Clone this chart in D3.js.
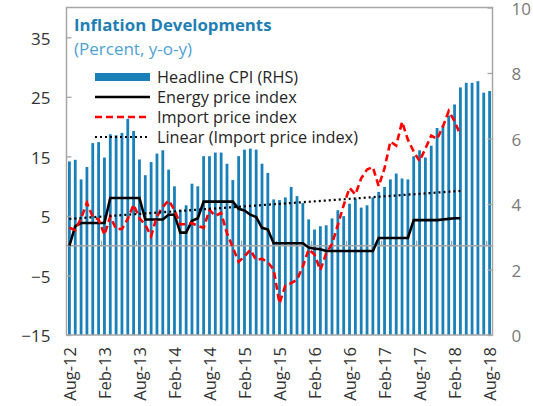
<!DOCTYPE html>
<html lang="en">
<head>
<meta charset="utf-8">
<title>Inflation Developments</title>
<script src="https://cdn.jsdelivr.net/npm/d3@7"></script>
<style>
	body { margin: 0; background: #fff; }
	text { font-family: "Open Sans", sans-serif; }
</style>
</head>
<body>
<script>
// categories: monthly, Aug-12 to Aug-18
var months = [
	"Aug-12","Sep-12","Oct-12","Nov-12","Dec-12",
	"Jan-13","Feb-13","Mar-13","Apr-13","May-13","Jun-13","Jul-13","Aug-13","Sep-13","Oct-13","Nov-13","Dec-13",
	"Jan-14","Feb-14","Mar-14","Apr-14","May-14","Jun-14","Jul-14","Aug-14","Sep-14","Oct-14","Nov-14","Dec-14",
	"Jan-15","Feb-15","Mar-15","Apr-15","May-15","Jun-15","Jul-15","Aug-15","Sep-15","Oct-15","Nov-15","Dec-15",
	"Jan-16","Feb-16","Mar-16","Apr-16","May-16","Jun-16","Jul-16","Aug-16","Sep-16","Oct-16","Nov-16","Dec-16",
	"Jan-17","Feb-17","Mar-17","Apr-17","May-17","Jun-17","Jul-17","Aug-17","Sep-17","Oct-17","Nov-17","Dec-17",
	"Jan-18","Feb-18","Mar-18","Apr-18","May-18","Jun-18","Jul-18","Aug-18"
];

// headline CPI, right axis
var cpi = [
	5.3, 5.35, 4.75, 5.13, 5.86, 5.89, 5.42, 6.13, 6.1, 6.17,
	6.6, 6.23, 5.36, 4.88, 5.28, 5.54, 5.64, 5.05, 4.54, 3.83,
	3.96, 4.62, 4.54, 5.46, 5.46, 5.57, 5.57, 5.23, 4.73, 5.46,
	5.66, 5.69, 5.66, 5.23, 4.95, 4.14, 4.12, 4.2, 4.52, 4.24,
	4.03, 3.53, 3.22, 3.32, 3.35, 3.56, 3.81, 3.63, 4.01, 4.17,
	3.89, 3.96, 4.2, 4.37, 4.52, 4.75, 4.93, 4.78, 4.75, 5.46,
	5.64, 5.42, 5.78, 6.32, 6.4, 6.7, 7.04, 7.56, 7.7, 7.7,
	7.75, 7.4, 7.45
];

// energy price index, left axis (Aug-12 to Mar-18)
var energy = [
	0.0, 3.3, 3.8, 3.8, 3.8, 3.8, 3.8, 8.0, 8.0, 8.0,
	8.0, 8.0, 8.0, 4.4, 4.4, 4.4, 4.4, 5.2, 5.2, 2.2,
	2.2, 4.2, 4.6, 7.4, 7.4, 7.4, 7.4, 7.4, 7.4, 6.2,
	5.9, 5.2, 4.8, 3.0, 2.7, 0.4, 0.4, 0.4, 0.4, 0.4,
	0.4, -0.3, -0.5, -0.6, -0.9, -0.9, -0.9, -0.9, -0.9, -0.9,
	-0.9, -0.9, -0.9, 1.3, 1.3, 1.3, 1.3, 1.3, 1.3, 4.3,
	4.3, 4.3, 4.3, 4.3, 4.4, 4.5, 4.6, 4.6
];

// import price index, left axis (Aug-12 to Mar-18)
var importIdx = [
	3.0, 2.6, 4.6, 7.2, 4.8, 4.4, 1.8, 4.9, 2.8, 2.8,
	4.5, 6.9, 4.6, 3.5, 1.6, 4.9, 6.5, 7.6, 6.0, 3.6,
	3.6, 3.8, 3.3, 3.0, 6.0, 5.0, 5.5, 2.1, -0.3, -2.7,
	-1.8, -0.7, -2.4, -2.2, -2.8, -4.0, -9.7, -6.7, -6.3, -5.7,
	-3.5, -0.6, -1.5, -4.1, -1.3, 0.3, 3.5, 6.8, 9.7, 8.6,
	11.3, 12.8, 13.2, 10.0, 13.0, 17.5, 16.8, 20.8, 17.8, 15.8,
	14.2, 16.3, 18.5, 17.9, 20.0, 22.6, 20.9, 18.6
];

// linear trend of import prices: first and last month
var trendMonths = ["Aug-12", "Mar-18"];
var trendValues = [4.5, 9.2];

var leftTicks = [-15, -5, 5, 15, 25, 35];
var rightTicks = [0, 2, 4, 6, 8, 10];
var xTickLabels = months.filter(function(d, i) { return i % 6 == 0; });

var legendLabels = ["Headline CPI (RHS)", "Energy price index", "Import price index", "Linear (Import price index)"];

//setup
var width = 533, height = 406;
var plotL = 66.5, plotR = 492.5, plotT = 7.5, plotB = 335;
var blue = "#1a80b9", grey = "#a6a6a6";

var svg = d3.select("body")
	.append("svg")
	.attr("width", width)
	.attr("height", height);

var x = d3.scaleBand()
	.domain(months)
	.range([plotL, plotR])
	.paddingInner(0.52)
	.paddingOuter(0.26);
var yL = d3.scaleLinear().domain([-15, 40]).range([plotB, plotT]);
var yR = d3.scaleLinear().domain([0, 10]).range([plotB, plotT]);

function cx(m) { return x(m) + x.bandwidth() / 2; }

//bars
svg.append("g").selectAll("rect")
	.data(cpi)
	.enter().append("rect")
	.attr("x", function(d, i) { return x(months[i]); })
	.attr("width", x.bandwidth())
	.attr("y", function(d) { return yR(d); })
	.attr("height", function(d) { return yR(0) - yR(d); })
	.attr("fill", blue);

//zero line and its ticks
svg.append("line")
	.attr("x1", plotL).attr("x2", plotR)
	.attr("y1", yL(0)).attr("y2", yL(0))
	.attr("stroke", grey).attr("stroke-width", 1.5);

var tickIdx = months.map(function(d, i) { return i; }).filter(function(i) { return i % 6 == 0 && i > 0; });
svg.append("g").selectAll("line")
	.data(tickIdx)
	.enter().append("line")
	.attr("x1", function(i) { return x(months[i]) - x.step() * x.paddingInner() / 2; })
	.attr("x2", function(i) { return x(months[i]) - x.step() * x.paddingInner() / 2; })
	.attr("y1", yL(0)).attr("y2", yL(0) - 5)
	.attr("stroke", grey).attr("stroke-width", 1.3);

//lines
var valueLine = d3.line()
	.x(function(d, i) { return cx(months[i]); })
	.y(function(d) { return yL(d); });

svg.append("path")
	.datum(energy)
	.attr("d", valueLine)
	.attr("fill", "none")
	.attr("stroke", "#000")
	.attr("stroke-width", 2.6);

svg.append("path")
	.datum(importIdx)
	.attr("d", valueLine)
	.attr("fill", "none")
	.attr("stroke", "#ff0000")
	.attr("stroke-width", 2.6)
	.attr("stroke-dasharray", "7,4");

svg.append("path")
	.datum(trendValues)
	.attr("d", d3.line()
		.x(function(d, i) { return cx(trendMonths[i]); })
		.y(function(d) { return yL(d); }))
	.attr("fill", "none")
	.attr("stroke", "#000")
	.attr("stroke-width", 2.2)
	.attr("stroke-dasharray", "2,3");

//frame
svg.append("rect")
	.attr("x", plotL).attr("y", plotT)
	.attr("width", plotR - plotL).attr("height", plotB - plotT)
	.attr("fill", "none")
	.attr("stroke", grey).attr("stroke-width", 1.5);

//axes
var axL = svg.append("g")
	.attr("transform", "translate(" + plotL + ",0)")
	.call(d3.axisLeft(yL).tickValues(leftTicks).tickSize(-5).tickPadding(16));
var axR = svg.append("g")
	.attr("transform", "translate(" + plotR + ",0)")
	.call(d3.axisRight(yR).tickValues(rightTicks).tickSize(-5).tickPadding(19));
[axL, axR].forEach(function(a) {
	a.select(".domain").remove();
	a.selectAll(".tick line").attr("stroke", grey).attr("stroke-width", 1.3);
	a.selectAll("text").attr("font-family", "'Open Sans', sans-serif").attr("font-size", 17).attr("dy", "0.4em");
});
axL.selectAll("text").attr("fill", "#333");
axR.selectAll("text").attr("fill", "#7a7a7a");

svg.append("g").selectAll("text")
	.data(xTickLabels)
	.enter().append("text")
	.attr("transform", function(d) { return "translate(" + (cx(d) + 1) + "," + 347 + ") rotate(-90)"; })
	.attr("text-anchor", "end")
	.attr("dy", "0.35em")
	.attr("font-size", 16.5)
	.attr("fill", "#333")
	.text(function(d) { return d; });

//title
svg.append("text")
	.attr("x", 74).attr("y", 31)
	.attr("font-size", 16.8).attr("font-weight", "bold")
	.attr("fill", "#1f7fb4")
	.text("Inflation Developments");
svg.append("text")
	.attr("x", 74).attr("y", 55)
	.attr("font-size", 17)
	.attr("fill", "#4fa2d4")
	.text("(Percent, y-o-y)");

//legend
var lg = svg.append("g");
var rowY = function(i) { return 77 + i * 20; };
lg.append("rect")
	.attr("x", 95).attr("y", rowY(0) - 4)
	.attr("width", 55).attr("height", 8)
	.attr("fill", blue);
lg.append("line")
	.attr("x1", 95).attr("x2", 150).attr("y1", rowY(1)).attr("y2", rowY(1))
	.attr("stroke", "#000").attr("stroke-width", 2.6);
lg.append("line")
	.attr("x1", 95).attr("x2", 150).attr("y1", rowY(2)).attr("y2", rowY(2))
	.attr("stroke", "#ff0000").attr("stroke-width", 2.6).attr("stroke-dasharray", "7,4");
lg.append("line")
	.attr("x1", 95).attr("x2", 150).attr("y1", rowY(3)).attr("y2", rowY(3))
	.attr("stroke", "#000").attr("stroke-width", 2.2).attr("stroke-dasharray", "2,3");
lg.selectAll("text")
	.data(legendLabels)
	.enter().append("text")
	.attr("x", 157)
	.attr("y", function(d, i) { return rowY(i); })
	.attr("dy", "0.35em")
	.attr("font-size", 16.3)
	.attr("fill", "#262626")
	.text(function(d) { return d; });
</script>
</body>
</html>
